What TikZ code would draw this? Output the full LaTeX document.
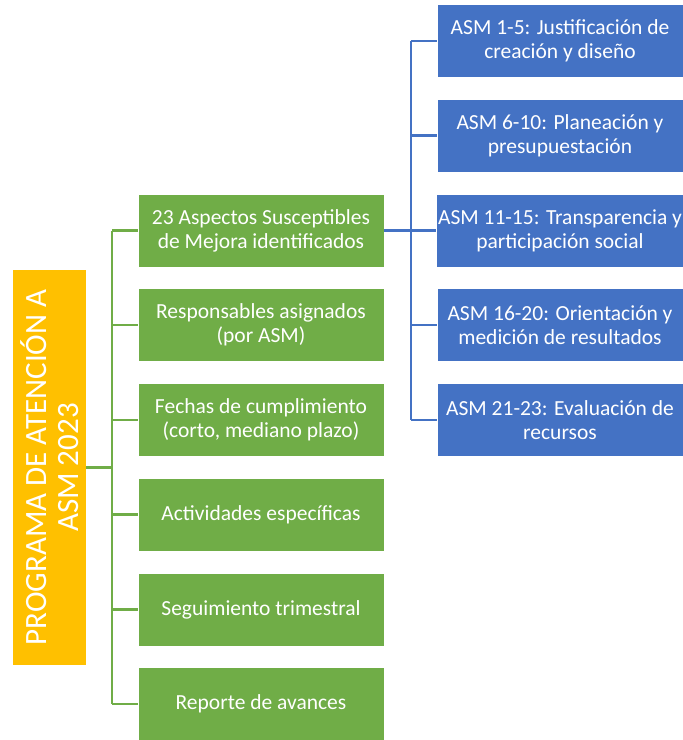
\documentclass[tikz,border=0pt]{standalone}
\usepackage{fontspec}
\setmainfont{Carlito}
\usetikzlibrary{positioning}
\usetikzlibrary{calc}

\definecolor{asmorange}{HTML}{FFC000}
\definecolor{asmgreen}{HTML}{70AD47}
\definecolor{asmblue}{HTML}{4472C4}

\tikzset{
	greenbox/.style={rectangle, fill=asmgreen, draw=white, line width=0.6pt, text=white, align=center, minimum width=246pt, minimum height=73pt, inner sep=2pt, font=\fontsize{21.5}{24}\selectfont},
	bluebox/.style={rectangle, fill=asmblue, draw=white, line width=0.6pt, text=white, align=center, minimum width=246pt, minimum height=73pt, inner sep=2pt, font=\fontsize{21.5}{24}\selectfont},
	greenline/.style={draw=asmgreen, line width=2.4pt},
	blueline/.style={draw=asmblue, line width=2.4pt}
}

\begin{document}
\begin{tikzpicture}[x=1pt, y=-1pt]
		
		\useasboundingbox (0,0) rectangle (683,740);
		
		% main programme box, text turned upwards
		\node at (49.5,467.5) [rectangle, fill=asmorange, rotate=90, text=white, align=center, minimum width=395pt, minimum height=73pt, inner sep=0pt, font=\fontsize{31}{32}\selectfont] (prog) {PROGRAMA DE ATENCIÓN A\\ASM 2023};
		
		% green column
		\node at (261,230.5) [greenbox] (g1) {23 Aspectos Susceptibles\\de Mejora identificados};
		\node at (261,325) [greenbox] (g2) {Responsables asignados\\(por ASM)};
		\node at (261,420) [greenbox] (g3) {Fechas de cumplimiento\\(corto, mediano plazo)};
		\node at (261,514.5) [greenbox] (g4) {Actividades específicas};
		\node at (261,609.5) [greenbox] (g5) {Seguimiento trimestral};
		\node at (261,704) [greenbox] (g6) {Reporte de avances};
		
		% blue column
		\node at (560,41) [bluebox] (b1) {ASM 1-5: Justificación de\\creación y diseño};
		\node at (560,135.5) [bluebox] (b2) {ASM 6-10: Planeación y\\presupuestación};
		\node at (560,230.5) [bluebox] (b3) {ASM 11-15: Transparencia y\\participación social};
		\node at (560,325) [bluebox] (b4) {ASM 16-20: Orientación y\\medición de resultados};
		\node at (560,420) [bluebox] (b5) {ASM 21-23: Evaluación de\\recursos};
		
		% brackets
		\coordinate (gtrunk) at (112,467.5);
		\coordinate (btrunk) at (411,230.5);
		
		\draw [greenline] (prog.south) -- (gtrunk);
		\draw [greenline] (gtrunk |- g1) -- (gtrunk |- g6);
		\foreach \i in {1,...,6} \draw [greenline] (gtrunk |- g\i) -- (g\i.west);
		
		\draw [blueline] (g1.east) -- (btrunk);
		\draw [blueline] (btrunk |- b1) -- (btrunk |- b5);
		\foreach \i in {1,...,5} \draw [blueline] (btrunk |- b\i) -- (b\i.west);
		
\end{tikzpicture}
\end{document}
